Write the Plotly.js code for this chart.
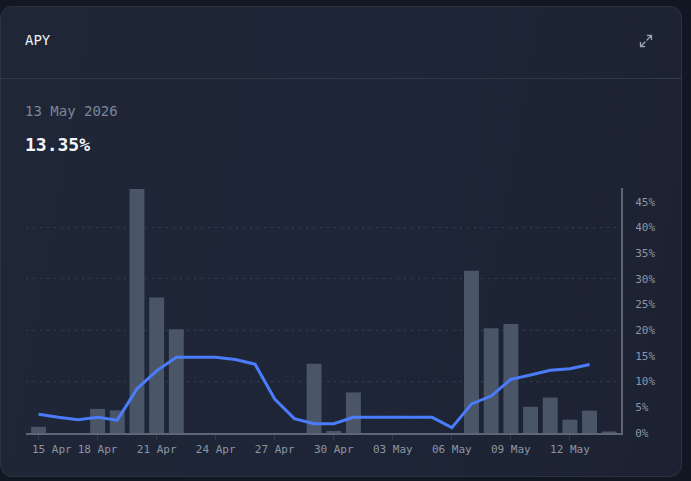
<!DOCTYPE html>
<html>
<head>
<meta charset="utf-8">
<script src="https://cdn.plot.ly/plotly-3.0.1.min.js"></script>
<style>
  html, body { margin:0; padding:0; width:691px; height:481px; overflow:hidden; background:#121823; font-family:"DejaVu Sans Mono", monospace; }
  #card { position:absolute; left:0; top:6px; width:682px; height:471px; border:1px solid #2b3341; border-radius:12px;
          background:linear-gradient(100deg,#1f2636 0%,#1e2536 60%,#1c2231 100%); box-sizing:border-box; }
  #sep { position:absolute; left:0; top:78px; width:682px; height:1px; background:#303948; }
  .t { position:absolute; white-space:nowrap; }
  #title { left:25px; top:32px; font-size:14px; color:#eef1f6; }
  #date { left:25px; top:103px; font-size:14px; color:#7d8596; }
  #val { left:25px; top:134px; font-size:18px; font-weight:bold; color:#f4f6fa; }
  #icon { position:absolute; left:638px; top:33px; width:16px; height:16px; }
  #chart { position:absolute; left:0; top:170px; width:682px; height:300px; }
</style>
</head>
<body>
<div id="card"></div>
<div id="sep"></div>
<div class="t" id="title">APY</div>
<div class="t" id="date">13 May 2026</div>
<div class="t" id="val">13.35%</div>
<svg id="icon" viewBox="0 0 16 16" fill="none" stroke="#9aa3b2" stroke-width="1.3" stroke-linecap="round">
  <path d="M9.5 2.5 H13.5 V6.5 M13.5 2.5 L9 7"/>
  <path d="M2.5 9.5 V13.5 H6.5 M2.5 13.5 L7 9"/>
</svg>
<div id="chart"></div>
<script>
const dates = ["2026-04-15","2026-04-16","2026-04-17","2026-04-18","2026-04-19","2026-04-20","2026-04-21","2026-04-22","2026-04-23","2026-04-24",
               "2026-04-25","2026-04-26","2026-04-27","2026-04-28","2026-04-29","2026-04-30","2026-05-01","2026-05-02","2026-05-03","2026-05-04",
               "2026-05-05","2026-05-06","2026-05-07","2026-05-08","2026-05-09","2026-05-10","2026-05-11","2026-05-12","2026-05-13","2026-05-14"];
const dailyApy = [1.2,0,0,4.7,4.4,47.5,26.4,20.2,0,0,
                  0,0,0,0,13.5,0.4,7.9,0,0,0,
                  0,0,31.6,20.4,21.2,5.1,6.9,2.6,4.35,0.3];
const avgApy = [3.65,3.05,2.6,3.05,2.5,8.6,12.1,14.75,14.75,14.75,
                14.3,13.4,6.6,2.8,1.8,1.8,3.05,3.05,3.05,3.05,
                3.05,1.05,5.65,7.2,10.45,11.3,12.2,12.5,13.35,null];
const xTickDates = ["2026-04-15","2026-04-18","2026-04-21","2026-04-24","2026-04-27","2026-04-30","2026-05-03","2026-05-06","2026-05-09","2026-05-12"];
const xTickLabels = ["15 Apr","18 Apr","21 Apr","24 Apr","27 Apr","30 Apr","03 May","06 May","09 May","12 May"];
const yTicks = [0,5,10,15,20,25,30,35,40,45];
const gridTicks = [10,20,30,40];
const yMax = 47.7;

const tickFont = {family:"DejaVu Sans Mono, monospace", size:11, color:"#8d95a4"};
// first label is nudged right so it stays inside the card, as in the reference
const xText = xTickLabels.map((s,i)=> i===0 ? "\u00a0\u00a0\u00a0\u00a0" + s : s);

const traces = [
  {type:"bar", x:dates, y:dailyApy, marker:{color:"#4a5568"}, hoverinfo:"skip"},
  {type:"scatter", mode:"lines", x:dates, y:avgApy, yaxis:"y2", line:{color:"#4a7cfb", width:3}, hoverinfo:"skip"}
];
const layout = {
  width:682, height:300,
  margin:{l:26, r:61, t:18, b:37},
  paper_bgcolor:"rgba(0,0,0,0)", plot_bgcolor:"rgba(0,0,0,0)",
  showlegend:false, bargap:0.24,
  xaxis:{type:"date", range:["2026-04-14 08:40","2026-05-14 14:20"], tickvals:xTickDates, ticktext:xText,
         showgrid:false, zeroline:false, showline:true, linecolor:"#5d6576", linewidth:2,
         ticks:"outside", ticklen:5, tickcolor:"#353d4b", tickfont:tickFont},
  yaxis:{range:[0,yMax], side:"right", tickvals:yTicks, ticktext:yTicks.map(v=>v+"%"), showgrid:false, zeroline:false,
         showline:true, linecolor:"#5d6576", linewidth:2, ticks:"", ticklabelstandoff:10, tickfont:tickFont, fixedrange:true},
  yaxis2:{range:[0,yMax], overlaying:"y", side:"right", tickvals:gridTicks, showticklabels:false, showgrid:true,
          gridcolor:"#364154", griddash:"2px,5px", gridwidth:1, zeroline:false, showline:false, ticks:""}
};
Plotly.newPlot("chart", traces, layout, {staticPlot:true, displayModeBar:false});
</script>
</body>
</html>
